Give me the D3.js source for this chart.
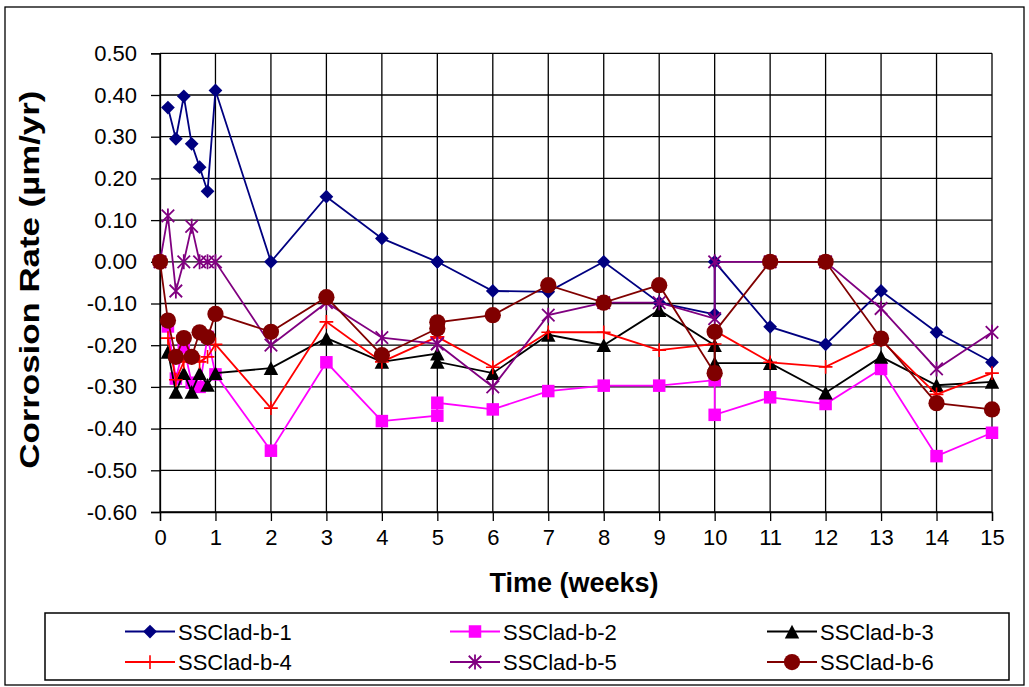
<!DOCTYPE html>
<html><head><meta charset="utf-8">
<script src="https://cdn.jsdelivr.net/npm/d3@7"></script>
<style>
body{margin:0;background:#fff;}
svg{display:block;font-family:"Liberation Sans",Arial,sans-serif;}
</style></head>
<body><svg id="c" width="1029" height="687"></svg>
<script>
// time points (weeks); 5 and 10 appear twice (repeat measurements)
const weeks = [0, 0.143, 0.286, 0.429, 0.571, 0.714, 0.857, 1, 2, 3, 4, 5, 5, 6, 7, 8, 9, 10, 10, 11, 12, 13, 14, 15];
const seriesNames = ["SSClad-b-1","SSClad-b-2","SSClad-b-3","SSClad-b-4","SSClad-b-5","SSClad-b-6"];
const s1 = [null, 0.37, 0.295, 0.397, 0.283, 0.227, 0.169, 0.411, 0.0, 0.156, 0.056, 0.0, 0.0, -0.07, -0.072, 0.0, -0.098, -0.126, 0.0, -0.156, -0.198, -0.07, -0.169, -0.241];
const s2 = [null, -0.155, -0.28, -0.205, -0.29, -0.30, -0.18, -0.27, -0.453, -0.241, -0.382, -0.369, -0.338, -0.354, -0.31, -0.297, -0.297, -0.284, -0.367, -0.325, -0.341, -0.257, -0.466, -0.41];
const s3 = [null, -0.216, -0.312, -0.267, -0.312, -0.267, -0.295, -0.267, -0.255, -0.183, -0.24, -0.22, -0.24, -0.267, -0.175, -0.2, -0.116, -0.2, -0.243, -0.243, -0.314, -0.228, -0.296, -0.288];
const s4 = [null, -0.183, -0.283, -0.24, -0.23, -0.24, -0.228, -0.198, -0.351, -0.144, -0.24, -0.18, -0.18, -0.253, -0.169, -0.169, -0.212, -0.197, -0.165, -0.241, -0.252, -0.188, -0.318, -0.267];
const s5 = [0, 0.11, -0.07, 0.0, 0.085, 0.0, 0.0, 0.0, -0.2, -0.098, -0.182, -0.197, -0.197, -0.3, -0.128, -0.098, -0.098, -0.136, 0.0, 0.0, 0.0, -0.112, -0.257, -0.169];
const s6 = [0, -0.141, -0.228, -0.183, -0.228, -0.169, -0.181, -0.125, -0.168, -0.085, -0.224, -0.16, -0.145, -0.128, -0.056, -0.098, -0.056, -0.267, -0.168, 0.0, 0.0, -0.184, -0.339, -0.354];
const xTicks = d3.range(0, 16);
const yTicks = [0.5,0.4,0.3,0.2,0.1,0,-0.1,-0.2,-0.3,-0.4,-0.5,-0.6];
const xTitle = "Time (weeks)";
const yTitle = "Corrosion Rate (µm/yr)";

const colors = ["#000080","#FF00FF","#000000","#FF0000","#800080","#800000"];
const shapes = ["diamond","square","triangle","plus","star","circle"];
const allSeries = [s1,s2,s3,s4,s5,s6];

const svg = d3.select("#c");
const L = 160, R = 992, T = 53.3, B = 512;
const x = d3.scaleLinear().domain([0,15]).range([L,R]);
const y = d3.scaleLinear().domain([-0.6,0.5]).range([B,T]);

// outer frame
svg.append("rect").attr("x",5).attr("y",7).attr("width",1019).attr("height",678)
  .attr("fill","none").attr("stroke","#000").attr("stroke-width",1.3);

// grid
const g = svg.append("g");
g.selectAll(".hg").data(yTicks).join("line")
  .attr("x1",L).attr("x2",R).attr("y1",d=>y(d)).attr("y2",d=>y(d))
  .attr("stroke","#000").attr("stroke-width",1.3);
g.selectAll(".vg").data(xTicks).join("line")
  .attr("y1",T).attr("y2",B).attr("x1",d=>x(d)).attr("x2",d=>x(d))
  .attr("stroke","#000").attr("stroke-width",1.3);

// axes
const fmt = v => { const s = Math.abs(v).toFixed(2); return (v < -1e-9 ? "-" : "") + s; };
const yAxis = svg.append("g").attr("transform",`translate(${L},0)`)
  .call(d3.axisLeft(y).tickValues(yTicks).tickFormat(fmt).tickSize(9).tickPadding(14));
const xAxis = svg.append("g").attr("transform",`translate(0,${B})`)
  .call(d3.axisBottom(x).tickValues(xTicks).tickFormat(d3.format("d")).tickSize(9).tickPadding(8));
[yAxis,xAxis].forEach(a=>{
  a.select(".domain").attr("stroke","#000").attr("stroke-width",1.3);
  a.selectAll(".tick line").attr("stroke","#000").attr("stroke-width",1.3);
  a.selectAll("text").attr("fill","#000").style("font-size","22px").style("font-family","'Liberation Sans',Arial,sans-serif");
});

// titles
svg.append("text").attr("x",(L+R)/2 - 2).attr("y",592).attr("text-anchor","middle")
  .style("font-size","27px").style("font-weight","bold").text(xTitle);
svg.append("text").attr("transform",`translate(39,${(T+B)/2 - 3}) rotate(-90)`).attr("text-anchor","middle")
  .attr("textLength",378).attr("lengthAdjust","spacingAndGlyphs")
  .style("font-size","27px").style("font-weight","bold").text(yTitle);

// marker painter
function marker(sel, shape, color, size){
  if(shape==="diamond"){
    const h = size*0.55;
    sel.append("path").attr("d",`M0,${-h}L${h},0L0,${h}L${-h},0Z`).attr("fill",color);
  } else if(shape==="square"){
    sel.append("rect").attr("x",-size/2).attr("y",-size/2).attr("width",size).attr("height",size).attr("fill",color);
  } else if(shape==="triangle"){
    const h = size*0.55;
    sel.append("path").attr("d",`M0,${-h}L${h*1.05},${h}L${-h*1.05},${h}Z`).attr("fill",color);
  } else if(shape==="plus"){
    const h = size*0.55;
    sel.append("path").attr("d",`M${-h},0H${h}M0,${-h}V${h}`).attr("stroke",color).attr("stroke-width",1.6).attr("fill","none");
  } else if(shape==="star"){
    const h = size*0.5;
    sel.append("path").attr("d",`M${-h},${-h}L${h},${h}M${-h},${h}L${h},${-h}M0,${-h*1.2}V${h*1.2}`).attr("stroke",color).attr("stroke-width",1.8).attr("fill","none");
  } else if(shape==="circle"){
    sel.append("circle").attr("r",size*0.65).attr("fill",color);
  }
}

// series
allSeries.forEach((vals,i)=>{
  const pts = weeks.map((w,j)=>({w, v: vals[j]})).filter(p=>p.v!==null);
  const line = d3.line().x(p=>x(p.w)).y(p=>y(p.v));
  svg.append("path").datum(pts).attr("d",line).attr("fill","none")
    .attr("stroke",colors[i]).attr("stroke-width",1.8);
  const mg = svg.append("g");
  pts.forEach(p=>{
    const m = mg.append("g").attr("transform",`translate(${x(p.w)},${y(p.v)})`);
    marker(m, shapes[i], colors[i], 12.5);
  });
});

// legend
svg.append("rect").attr("x",45).attr("y",613).attr("width",964).attr("height",67)
  .attr("fill","#fff").attr("stroke","#000").attr("stroke-width",1.5);
const colX = [125, 450, 767];
const rowY = [631.5, 662];
seriesNames.forEach((n,i)=>{
  const cx = colX[i%3], cy = rowY[Math.floor(i/3)];
  const lg = svg.append("g").attr("transform",`translate(${cx},${cy})`);
  lg.append("line").attr("x1",0).attr("x2",50).attr("y1",0).attr("y2",0).attr("stroke",colors[i]).attr("stroke-width",1.8);
  const m = lg.append("g").attr("transform","translate(25,0)");
  marker(m, shapes[i], colors[i], 12.5);
  lg.append("text").attr("x",53).attr("y",8).style("font-size","22px").text(n);
});
</script></body></html>
